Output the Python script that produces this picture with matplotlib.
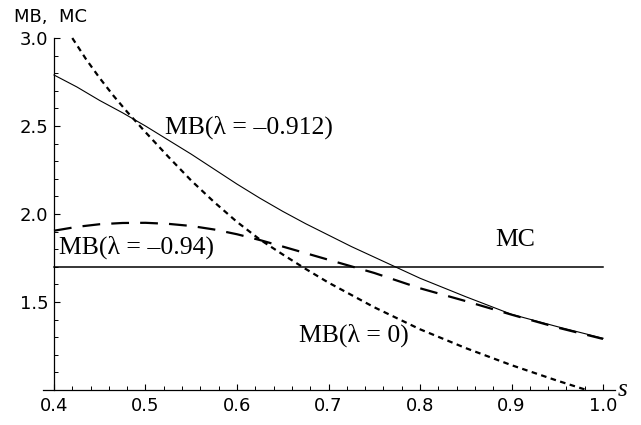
import numpy as np
import matplotlib
matplotlib.use('Agg')
import matplotlib.pyplot as plt

# values
s_912 = [0.40, 0.425, 0.45, 0.475, 0.50, 0.525, 0.55, 0.575, 0.60, 0.625, 0.65, 0.675,
         0.70, 0.725, 0.75, 0.80, 0.85, 0.90, 0.95, 1.00]
mb_0912 = [2.79, 2.722, 2.645, 2.575, 2.50, 2.42, 2.34, 2.255, 2.17, 2.09, 2.015, 1.945,
           1.88, 1.815, 1.755, 1.635, 1.53, 1.43, 1.36, 1.294]

s_94 = [0.40, 0.425, 0.45, 0.475, 0.50, 0.525, 0.55, 0.575, 0.60, 0.625, 0.65, 0.70,
        0.75, 0.80, 0.85, 0.90, 0.95, 1.00]
mb_094 = [1.905, 1.927, 1.942, 1.949, 1.950, 1.944, 1.932, 1.912, 1.885, 1.852, 1.815, 1.74,
          1.665, 1.578, 1.505, 1.428, 1.355, 1.29]

s_zero = [0.42, 0.435, 0.45, 0.465, 0.48, 0.50, 0.525, 0.55, 0.575, 0.60, 0.625, 0.65,
          0.675, 0.70, 0.75, 0.80, 0.85, 0.90, 0.95, 0.982]
mb_zero = [3.00, 2.88, 2.772, 2.672, 2.58, 2.465, 2.325, 2.19, 2.068, 1.955, 1.855, 1.77,
           1.688, 1.61, 1.47, 1.345, 1.238, 1.141, 1.053, 1.00]

mc_s = [0.40, 1.00]
mc = [1.70, 1.70]

x_major = [0.4, 0.5, 0.6, 0.7, 0.8, 0.9, 1.0]
x_labels = ['0.4', '0.5', '0.6', '0.7', '0.8', '0.9', '1.0']
y_major = [1.5, 2.0, 2.5, 3.0]
y_labels = ['1.5', '2.0', '2.5', '3.0']

fig = plt.figure(figsize=(6.41, 4.25), dpi=100)
ax = fig.add_axes([0.0671, 0.0741, 0.9022, 0.8447])
ax.set_xlim(0.388, 1.02)
ax.set_ylim(0.98, 3.02)

ax.plot(s_912, mb_0912, color='black', lw=0.8)
ax.plot(s_94, mb_094, color='black', lw=1.6, dashes=(8, 5))
ax.plot(s_zero, mb_zero, color='black', lw=1.6, dashes=(2.5, 2))
ax.plot(mc_s, mc, color='black', lw=1.1)

for sp in ['top', 'right']:
    ax.spines[sp].set_visible(False)
ax.spines['left'].set_position(('data', 0.4))
ax.spines['bottom'].set_position(('data', 1.0))
ax.spines['left'].set_bounds(1.0, 3.0)
ax.spines['bottom'].set_bounds(0.388, 1.013)
ax.spines['left'].set_linewidth(0.9)
ax.spines['bottom'].set_linewidth(0.9)

ax.set_xticks(x_major)
ax.set_xticklabels(x_labels)
ax.set_xticks(np.arange(0.42, 0.99, 0.02), minor=True)
ax.set_yticks(y_major)
ax.set_yticklabels(y_labels)
ax.set_yticks([v / 10 for v in range(11, 30) if v % 5 != 0], minor=True)

ax.tick_params(which='major', direction='in', length=4.5, width=0.8, labelsize=13, pad=5)
ax.tick_params(which='minor', direction='in', length=2.8, width=0.7)
ax.tick_params(axis='y', which='major', pad=4)

tf = dict(family='Liberation Serif', size=18.5, color='black')
ax.text(0.5213, 2.4545, 'MB(\u03bb = \u20130.912)', va='baseline', ha='left', **tf)
ax.text(0.4058, 1.7767, 'MB(\u03bb = \u20130.94)', va='baseline', ha='left', **tf)
ax.text(0.882, 1.818, 'MC', va='baseline', ha='left', **tf)
ax.text(0.668, 1.2745, 'MB(\u03bb = 0)', va='baseline', ha='left', **tf)

ax.text(1.0215, 1.0, 's', va='center', ha='center', family='Liberation Serif',
        style='italic', size=18, clip_on=False)
fig.text(14 / 641, 1 - 17 / 425, 'MB,  MC', va='center', ha='left', size=13)

fig.savefig('out.png', dpi=100)
